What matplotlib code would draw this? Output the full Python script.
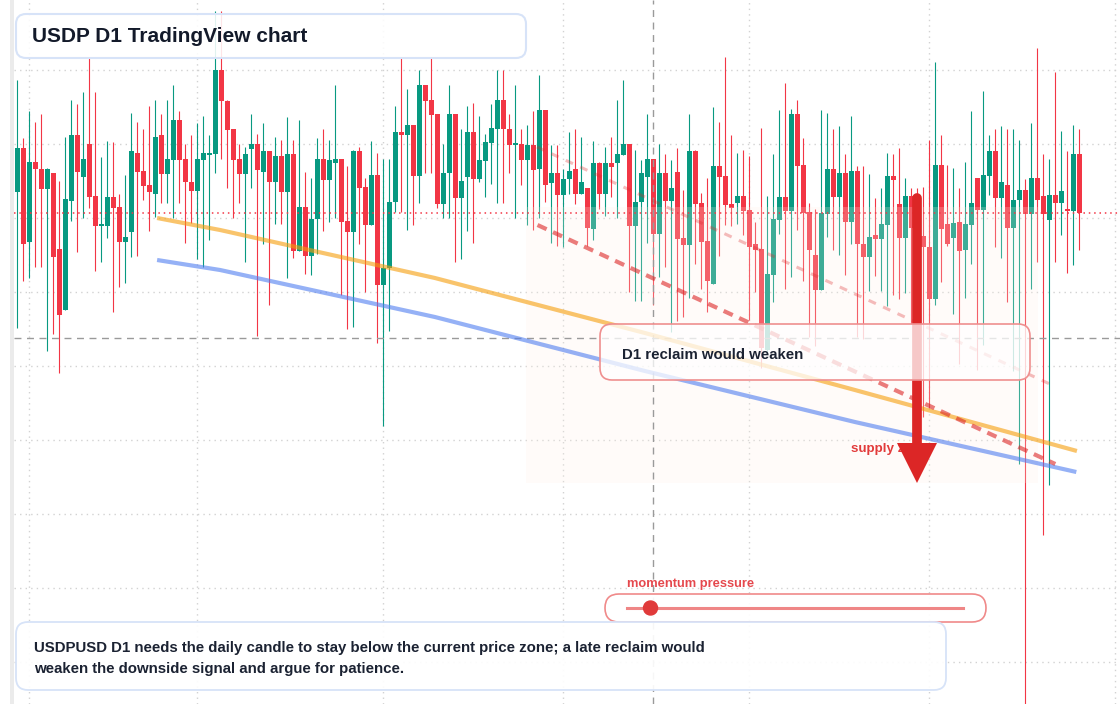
import numpy as np
import pandas as pd
import matplotlib
matplotlib.use("Agg")
import matplotlib.pyplot as plt
from matplotlib.patches import FancyBboxPatch, Rectangle, Circle
from matplotlib.lines import Line2D
from matplotlib.transforms import IdentityTransform

plt.rcParams['font.family'] = ['Liberation Sans', 'DejaVu Sans']

# ---------------- data ----------------
dates = pd.date_range("2025-01-30", periods=178, freq="D")

opens = [
    1.00174, 1.00218, 1.00124, 1.00204, 1.00197, 1.00177, 1.00193, 1.00117, 1.00056, 1.00165,
    1.00231, 1.00189, 1.00222, 1.00170, 1.00140, 1.00140, 1.00169, 1.00159, 1.00124, 1.00134,
    1.00213, 1.00195, 1.00181, 1.00172, 1.00231, 1.00192, 1.00206, 1.00246, 1.00207, 1.00184,
    1.00175, 1.00206, 1.00211, 1.00212, 1.00296, 1.00265, 1.00237, 1.00207, 1.00192, 1.00217,
    1.00222, 1.00194, 1.00215, 1.00184, 1.00210, 1.00174, 1.00212, 1.00115, 1.00159, 1.00110,
    1.00147, 1.00207, 1.00186, 1.00203, 1.00207, 1.00145, 1.00134, 1.00215, 1.00179, 1.00141,
    1.00191, 1.00081, 1.00098, 1.00164, 1.00234, 1.00231, 1.00241, 1.00190, 1.00281, 1.00266,
    1.00252, 1.00162, 1.00193, 1.00252, 1.00168, 1.00189, 1.00234, 1.00187, 1.00205, 1.00223,
    1.00237, 1.00266, 1.00237, 1.00221, 1.00222, 1.00206, 1.00221, 1.00197, 1.00256, 1.00183,
    1.00193, 1.00171, 1.00187, 1.00197, 1.00172, 1.00178, 1.00137, 1.00203, 1.00172, 1.00203,
    1.00203, 1.00211, 1.00222, 1.00140, 1.00164, 1.00189, 1.00207, 1.00132, 1.00193, 1.00165,
    1.00194, 1.00128, 1.00121, 1.00215, 1.00163, 1.00125, 1.00082, 1.00200, 1.00190, 1.00162,
    1.00163, 1.00170, 1.00156, 1.00122, 1.00117, 1.00016, 1.00091, 1.00146, 1.00169, 1.00155,
    1.00252, 1.00201, 1.00154, 1.00111, 1.00076, 1.00152, 1.00197, 1.00169, 1.00193, 1.00144,
    1.00195, 1.00122, 1.00109, 1.00131, 1.00127, 1.00141, 1.00190, 1.00162, 1.00128, 1.00170,
    1.00140, 1.00130, 1.00119, 1.00067, 1.00201, 1.00142, 1.00128, 1.00144, 1.00116, 1.00141,
    1.00188, 1.00156, 1.00190, 1.00215, 1.00168, 1.00181, 1.00138, 1.00166, 1.00176, 1.00152,
    1.00188, 1.00170, 1.00146, 1.00171, 1.00163, 1.00157, 1.00155, 1.00212,
]

highs = [
    1.00286, 1.00228, 1.00255, 1.00244, 1.00252, 1.00198, 1.00193, 1.00185, 1.00229, 1.00266,
    1.00262, 1.00274, 1.00309, 1.00274, 1.00209, 1.00225, 1.00224, 1.00172, 1.00191, 1.00253,
    1.00244, 1.00237, 1.00260, 1.00266, 1.00252, 1.00266, 1.00281, 1.00255, 1.00222, 1.00231,
    1.00243, 1.00250, 1.00231, 1.00355, 1.00355, 1.00266, 1.00237, 1.00222, 1.00219, 1.00252,
    1.00232, 1.00243, 1.00215, 1.00229, 1.00226, 1.00249, 1.00226, 1.00246, 1.00194, 1.00188,
    1.00228, 1.00237, 1.00226, 1.00281, 1.00207, 1.00200, 1.00216, 1.00219, 1.00188, 1.00225,
    1.00213, 1.00207, 1.00207, 1.00260, 1.00308, 1.00277, 1.00241, 1.00296, 1.00281, 1.00308,
    1.00252, 1.00222, 1.00281, 1.00252, 1.00237, 1.00260, 1.00263, 1.00250, 1.00232, 1.00262,
    1.00296, 1.00296, 1.00252, 1.00281, 1.00237, 1.00241, 1.00255, 1.00291, 1.00256, 1.00221,
    1.00221, 1.00197, 1.00234, 1.00237, 1.00229, 1.00178, 1.00225, 1.00204, 1.00219, 1.00229,
    1.00266, 1.00286, 1.00222, 1.00216, 1.00206, 1.00252, 1.00207, 1.00222, 1.00212, 1.00206,
    1.00218, 1.00176, 1.00252, 1.00216, 1.00173, 1.00188, 1.00259, 1.00244, 1.00309, 1.00231,
    1.00213, 1.00216, 1.00210, 1.00144, 1.00238, 1.00170, 1.00212, 1.00256, 1.00283, 1.00257,
    1.00266, 1.00228, 1.00163, 1.00157, 1.00256, 1.00253, 1.00237, 1.00240, 1.00212, 1.00250,
    1.00200, 1.00200, 1.00192, 1.00168, 1.00178, 1.00213, 1.00212, 1.00218, 1.00188, 1.00178,
    1.00178, 1.00179, 1.00226, 1.00304, 1.00231, 1.00201, 1.00198, 1.00178, 1.00204, 1.00255,
    1.00188, 1.00275, 1.00231, 1.00237, 1.00240, 1.00237, 1.00237, 1.00226, 1.00187, 1.00243,
    1.00318, 1.00212, 1.00207, 1.00294, 1.00235, 1.00215, 1.00241, 1.00237,
]

lows = [
    1.00038, 1.00085, 1.00088, 1.00099, 1.00099, 1.00015, 1.00032, 0.99993, 1.00056, 1.00145,
    1.00114, 1.00148, 1.00158, 1.00095, 1.00104, 1.00128, 1.00054, 1.00079, 1.00083, 1.00109,
    1.00110, 1.00166, 1.00135, 1.00149, 1.00163, 1.00163, 1.00148, 1.00163, 1.00123, 1.00143,
    1.00107, 1.00099, 1.00126, 1.00193, 1.00207, 1.00178, 1.00148, 1.00163, 1.00104, 1.00178,
    1.00030, 1.00122, 1.00061, 1.00142, 1.00142, 1.00088, 1.00108, 1.00115, 1.00092, 1.00091,
    1.00112, 1.00135, 1.00144, 1.00148, 1.00071, 1.00037, 1.00039, 1.00122, 1.00074, 1.00141,
    1.00023, 0.99940, 1.00035, 1.00154, 1.00154, 1.00136, 1.00141, 1.00163, 1.00193, 1.00193,
    1.00158, 1.00148, 1.00148, 1.00104, 1.00107, 1.00135, 1.00123, 1.00184, 1.00169, 1.00182,
    1.00163, 1.00163, 1.00193, 1.00148, 1.00181, 1.00141, 1.00136, 1.00148, 1.00164, 1.00123,
    1.00120, 1.00119, 1.00172, 1.00162, 1.00172, 1.00120, 1.00126, 1.00157, 1.00150, 1.00169,
    1.00148, 1.00211, 1.00074, 1.00065, 1.00065, 1.00123, 1.00061, 1.00089, 1.00099, 1.00034,
    1.00045, 1.00049, 1.00068, 1.00102, 1.00077, 1.00054, 1.00082, 1.00110, 1.00141, 1.00140,
    1.00142, 1.00131, 1.00046, 1.00074, 0.99998, 1.00014, 1.00064, 1.00132, 1.00077, 1.00089,
    1.00136, 1.00085, 1.00029, 1.00020, 1.00076, 1.00129, 1.00116, 1.00111, 1.00091, 1.00122,
    1.00029, 1.00027, 1.00075, 1.00090, 1.00075, 1.00060, 1.00071, 1.00067, 1.00073, 1.00042,
    1.00110, 0.99949, 0.99958, 1.00061, 1.00084, 1.00120, 1.00052, 1.00002, 1.00068, 1.00102,
    0.99996, 1.00021, 1.00171, 1.00119, 1.00108, 1.00064, 0.99995, 0.99902, 0.99640, 1.00077,
    1.00104, 0.99831, 0.99881, 1.00104, 1.00131, 1.00093, 1.00101, 1.00116,
]

closes = [
    1.00218, 1.00122, 1.00204, 1.00197, 1.00177, 1.00197, 1.00109, 1.00051, 1.00167, 1.00231,
    1.00194, 1.00207, 1.00169, 1.00140, 1.00141, 1.00169, 1.00158, 1.00124, 1.00129, 1.00215,
    1.00194, 1.00180, 1.00174, 1.00229, 1.00192, 1.00207, 1.00246, 1.00206, 1.00184, 1.00175,
    1.00207, 1.00213, 1.00213, 1.00296, 1.00265, 1.00236, 1.00206, 1.00192, 1.00212, 1.00222,
    1.00196, 1.00215, 1.00184, 1.00210, 1.00174, 1.00212, 1.00115, 1.00159, 1.00110, 1.00147,
    1.00207, 1.00186, 1.00206, 1.00207, 1.00144, 1.00134, 1.00215, 1.00178, 1.00141, 1.00191,
    1.00081, 1.00098, 1.00164, 1.00234, 1.00231, 1.00241, 1.00190, 1.00281, 1.00265, 1.00251,
    1.00162, 1.00193, 1.00252, 1.00168, 1.00185, 1.00234, 1.00187, 1.00206, 1.00224, 1.00238,
    1.00266, 1.00237, 1.00221, 1.00222, 1.00206, 1.00221, 1.00196, 1.00256, 1.00181, 1.00193,
    1.00171, 1.00187, 1.00195, 1.00172, 1.00184, 1.00138, 1.00203, 1.00172, 1.00203, 1.00199,
    1.00212, 1.00222, 1.00140, 1.00164, 1.00193, 1.00207, 1.00132, 1.00193, 1.00165, 1.00178,
    1.00127, 1.00121, 1.00215, 1.00162, 1.00124, 1.00085, 1.00200, 1.00189, 1.00161, 1.00158,
    1.00170, 1.00155, 1.00119, 1.00116, 1.00018, 1.00092, 1.00147, 1.00169, 1.00155, 1.00252,
    1.00200, 1.00153, 1.00116, 1.00076, 1.00153, 1.00197, 1.00169, 1.00193, 1.00144, 1.00195,
    1.00122, 1.00109, 1.00129, 1.00127, 1.00142, 1.00190, 1.00186, 1.00128, 1.00170, 1.00138,
    1.00128, 1.00119, 1.00067, 1.00201, 1.00137, 1.00122, 1.00143, 1.00115, 1.00142, 1.00163,
    1.00156, 1.00191, 1.00215, 1.00168, 1.00184, 1.00138, 1.00166, 1.00176, 1.00152, 1.00188,
    1.00166, 1.00152, 1.00171, 1.00163, 1.00175, 1.00155, 1.00212, 1.00153,
]

# annotation data (candle index, price)
ref_level = 1.00028          # grey dashed horizontal level
ref_index = 106              # grey dashed vertical (2025-05-16)
orange_idx = [23.3, 33.8, 69.6, 104.6, 139.6, 176.6]
orange_px = [1.00148, 1.00136, 1.00088, 1.00033, 0.99976, 0.99915]
blue_idx = [23.3, 33.8, 69.6, 104.6, 139.6, 176.5]
blue_px = [1.00106, 1.00096, 1.00049, 0.99995, 0.99944, 0.99894]
red_idx = [86.7, 173.0]
red_px = [1.00141, 0.99902]
pink_idx = [86.6, 172.8]
pink_px = [1.00219, 0.99980]
zone_idx = [84.8, 170.1]
zone_px = [0.99883, 1.00159]
arrow_idx = 150
arrow_from = 1.00168
arrow_head = 0.99903
arrow_base = 0.99921
momentum = 0.07

title = "USDP D1 TradingView chart"
reclaim_label = "D1 reclaim would weaken"
zone_label = "supply zone"
momentum_label = "momentum pressure"
note_lines = ["USDPUSD D1 needs the daily candle to stay below the current price zone; a late reclaim would",
              "weaken the downside signal and argue for patience."]

# ---------------- figure ----------------
W, H = 1120, 704
fig = plt.figure(figsize=(W / 100, H / 100), dpi=100)
fig.patch.set_facecolor('white')
ax = fig.add_axes([14 / W, 0, 1 - 14 / W, 1])
ax.set_facecolor('white')
for s in ax.spines.values():
    s.set_visible(False)

o = np.array(opens); h = np.array(highs); l = np.array(lows); c = np.array(closes)
x = np.arange(len(dates))

# grid: month starts and price levels
ext = pd.date_range(dates[0], periods=186, freq="D")
month_idx = [(d - dates[0]).days for d in ext if d.day == 1]
ax.set_xticks(month_idx)
ax.set_yticks(1.0 + 0.00074 * np.arange(-4, 5))
ax.tick_params(length=0, labelleft=False, labelbottom=False)
ax.grid(True, color='#d2d2d2', linestyle=(0, (1, 3)), lw=1)
ax.set_axisbelow(True)

# candles
up = c >= o
cols = np.where(up, '#089981', '#f23645')
ax.vlines(x, l, h, colors=cols, lw=0.8, zorder=2)
ax.bar(x, np.maximum(np.abs(c - o), 0.000015), bottom=np.minimum(o, c), width=0.78,
       color=cols, linewidth=0, zorder=2.1)

# zone
ax.add_patch(Rectangle((zone_idx[0], zone_px[0]), zone_idx[1] - zone_idx[0], zone_px[1] - zone_px[0],
                       facecolor='#fff1e6', alpha=0.22, lw=0, zorder=2.5))

# reference lines
ax.axhline(c[-1], color='#f23645', lw=1.1, linestyle=(0, (1, 2.5)), zorder=3)
ax.axhline(ref_level, color='#9a9a9a', lw=1, linestyle=(0, (5, 4)), zorder=3)
ax.axvline(ref_index, color='#9a9a9a', lw=1, linestyle=(0, (5, 4)), zorder=3)

# trend lines
ax.plot(orange_idx, orange_px, color='#f59e0b', alpha=0.6, lw=3, zorder=3.5, solid_capstyle='butt')
ax.plot(blue_idx, blue_px, color='#4f7df0', alpha=0.6, lw=3, zorder=3.5, solid_capstyle='butt')
ax.plot(red_idx, red_px, color='#dc2626', alpha=0.6, lw=3, linestyle=(0, (2.4, 1.7)), zorder=3.6)
ax.plot(pink_idx, pink_px, color='#dc2626', alpha=0.3, lw=2.2, linestyle=(0, (2.6, 2.6)), zorder=3.6)

ID = IdentityTransform()

def ytop(y):
    return H - y

# supply label under arrow
ax.text(851, ytop(452), zone_label, transform=ID, fontsize=9.6, fontweight='bold',
        color='#e23b3b', ha='left', va='baseline', zorder=4)

# arrow
ax.plot([arrow_idx, arrow_idx], [arrow_from, arrow_base], color='#dc2626', lw=7,
        solid_capstyle='round', zorder=5)
ax.plot([arrow_idx], [arrow_head], marker='v', ms=29, color='#dc2626', mew=0, zorder=5)

def box(x0, y0, x1, y1, r, face, edge, lw, z):
    p = FancyBboxPatch((x0, ytop(y1)), x1 - x0, y1 - y0,
                       boxstyle=f"round,pad=0,rounding_size={r}", transform=ID,
                       facecolor=face, edgecolor=edge, lw=lw, zorder=z, clip_on=False)
    ax.add_patch(p)

# reclaim box
box(600, 324, 1030, 380, 12, (1, 1, 1, 0.75), '#ef8f8f', 1.2, 6)
ax.text(622, ytop(359.3), reclaim_label, transform=ID, fontsize=10.8, fontweight='bold',
        color='#1b2232', ha='left', va='baseline', zorder=7)

# title box
box(16, 14, 526, 58, 10, (1, 1, 1, 0.88), '#d7e3f8', 1.5, 6)
ax.text(32, ytop(42.5), title, transform=ID, fontsize=15, fontweight='bold',
        color='#131a2a', ha='left', va='baseline', zorder=7)

# momentum gauge
ax.text(627, ytop(586.5), momentum_label, transform=ID, fontsize=9.3, fontweight='bold',
        color='#e5484d', ha='left', va='baseline', zorder=7)
box(605, 594, 986, 622, 14, (1, 1, 1, 0.92), '#f08a8a', 1.2, 6)
ax.add_line(Line2D([627, 963], [ytop(608), ytop(608)], transform=ID, color='#ef8686',
                   lw=2.2, zorder=7, clip_on=False))
ax.add_patch(Circle((627 + momentum * (963 - 627), ytop(608)), 7, transform=ID,
                    color='#e03a3a', zorder=8, clip_on=False))

# bottom note box
box(16, 622, 946, 690, 12, (1, 1, 1, 0.92), '#d7e3f8', 1.3, 6)
ax.text(34, ytop(652), note_lines[0], transform=ID, fontsize=10.8, fontweight='bold',
        color='#1b2232', ha='left', va='baseline', zorder=7)
ax.text(34, ytop(673), note_lines[1], transform=ID, fontsize=10.8, fontweight='bold',
        color='#1b2232', ha='left', va='baseline', zorder=7)

# left strip
fig.add_artist(Rectangle((10, 0), 4, H, transform=ID, facecolor='#ebebeb', lw=0))

# view limits (set last so tick placement cannot widen them)
ax.set_xlim(-0.55, 183.78)
ax.set_ylim(0.99662, 1.00366)

fig.savefig("out.png", dpi=100, facecolor='white')
